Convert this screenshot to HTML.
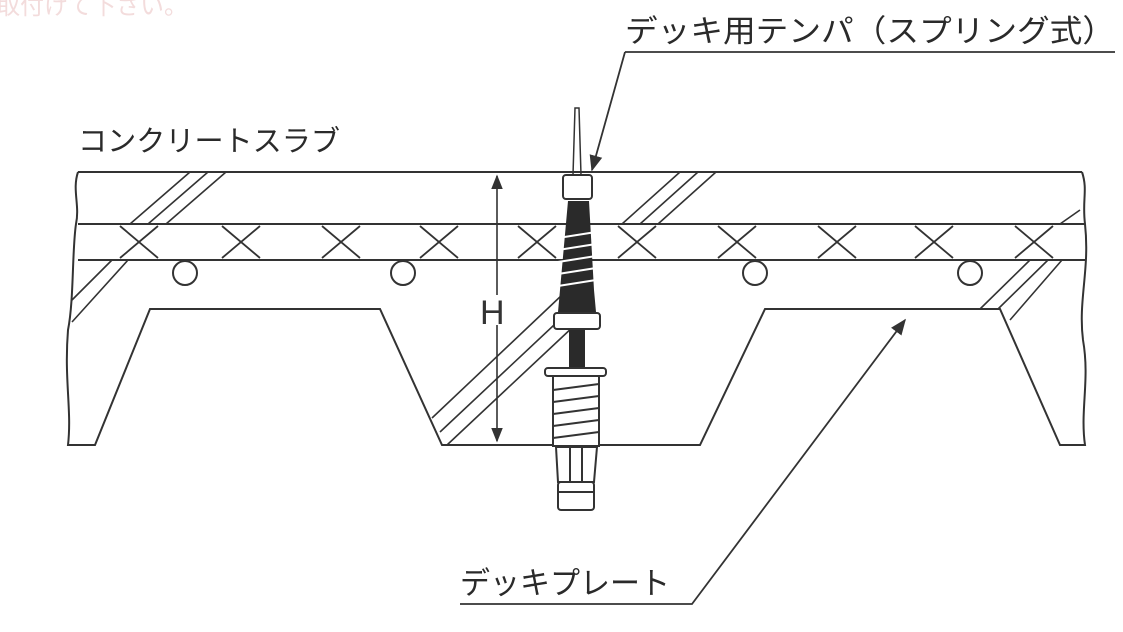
<!DOCTYPE html>
<html><head><meta charset="utf-8"><style>
html,body{margin:0;padding:0;background:#fff;width:1123px;height:632px;overflow:hidden}
svg{display:block}
text{font-family:"Liberation Sans","Noto Sans CJK JP",sans-serif;fill:#2a2a2a}
</style></head><body>
<svg width="1123" height="632" viewBox="0 0 1123 632" xmlns="http://www.w3.org/2000/svg">
<defs><marker id="a" viewBox="0 0 10 10" refX="9" refY="5" markerWidth="9" markerHeight="9" orient="auto-start-reverse"><path d="M0,1 L10,5 L0,9 z" fill="#333"/></marker></defs>
<text x="-4" y="14" font-size="24" style="fill:#f3dcdc">取付けて下さい。</text>
<g stroke="#333" stroke-width="2" fill="none">
<path d="M78,172 L1082,172"/>
<path d="M78,172 C72,190 80,205 76,224 C72,250 74,300 68,330 C64,380 72,410 68,445 L95,445 L150,309 L380,309 L442,445 L700,445 L765,309 L1000,309 L1060,445 L1085,445 C1080,410 1090,380 1083,340 C1078,300 1090,270 1085,224 C1082,200 1088,190 1082,172"/>
<path d="M78,224 L1085,224 M78,260 L1085,260"/>
<g stroke-width="1.8">
<path d="M120,226 L158,258 M158,226 L120,258"/>
<path d="M222,226 L260,258 M260,226 L222,258"/>
<path d="M322,226 L360,258 M360,226 L322,258"/>
<path d="M420,226 L458,258 M458,226 L420,258"/>
<path d="M518,226 L556,258 M556,226 L518,258"/>
<path d="M618,226 L656,258 M656,226 L618,258"/>
<path d="M718,226 L756,258 M756,226 L718,258"/>
<path d="M818,226 L856,258 M856,226 L818,258"/>
<path d="M915,226 L953,258 M953,226 L915,258"/>
<path d="M1015,226 L1053,258 M1053,226 L1015,258"/>
</g>
<circle cx="185" cy="273" r="12"/><circle cx="403" cy="273" r="12"/>
<circle cx="755" cy="273" r="12"/><circle cx="970" cy="273" r="12"/>
<g stroke-width="1.6">
<path d="M130,224 L190,172 M148,224 L208,172 M166,224 L226,172"/>
<path d="M72,300 L112,260 M72,322 L128,260"/>
<path d="M622,224 L680,172 M640,224 L698,172 M658,224 L716,172"/>
<path d="M432,418 L562,295 M440,432 L570,310 M447,445 L575,325"/>
<path d="M980,309 L1030,260 M998,309 L1048,260 M1010,320 L1062,260"/>
<path d="M1060,224 L1080,210"/>
</g>
<path d="M497,176 L497,295 M497,325 L497,441" stroke-width="1.6" marker-start="url(#a)" marker-end="url(#a)"/>
<path d="M573,175 L575,108 L579,108 L581,175" stroke-width="1.5"/>
<rect x="563" y="175" width="29" height="24" rx="3"/>
</g>
<path d="M568,201 L589,201 L594,290 L596,312 L558,312 L560,290 Z" fill="#2a2a2a"/>
<g stroke="#fff" stroke-width="2"><path d="M558,238 L596,232 M558,250 L596,244 M558,262 L596,256 M558,274 L596,268 M558,286 L596,280"/></g>
<rect x="569" y="330" width="16" height="38" fill="#2a2a2a"/>
<g stroke="#333" stroke-width="2" fill="#fff">
<rect x="554" y="313" width="46" height="16" rx="3"/>
<rect x="545" y="368" width="61" height="8" rx="3"/>
<rect x="553" y="376" width="46" height="70"/>
<path d="M553,390 L599,384 M553,402 L599,396 M553,414 L599,408 M553,426 L599,420 M553,438 L599,432" fill="none"/>
<path d="M556,447 L597,447 L594,482 L558,482 Z"/>
<path d="M570,447 L570,482 M582,447 L582,482" fill="none"/>
<rect x="558" y="482" width="36" height="28" rx="3"/>
<path d="M558,492 L594,492" fill="none"/>
</g>
<text x="625" y="42" font-size="31" textLength="490" lengthAdjust="spacingAndGlyphs">デッキ用テンパ（スプリング式）</text>
<path d="M625,52 L1115,52 M625,52 L592,170" stroke="#333" stroke-width="1.8" fill="none" marker-end="url(#a)"/>
<text x="78" y="151" font-size="29" textLength="262" lengthAdjust="spacingAndGlyphs">コンクリートスラブ</text>
<text x="460" y="594" font-size="31" textLength="210" lengthAdjust="spacingAndGlyphs">デッキプレート</text>
<path d="M460,604 L692,604 L905,320" stroke="#333" stroke-width="1.8" fill="none" marker-end="url(#a)"/>
<text x="480" y="324" font-size="34" style="fill:#333">H</text>
</svg>
</body></html>
